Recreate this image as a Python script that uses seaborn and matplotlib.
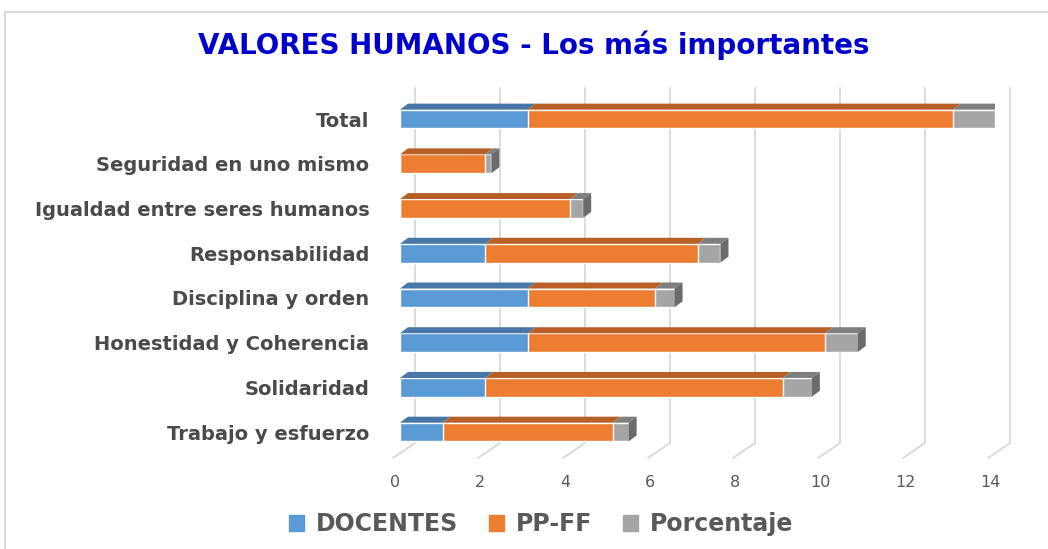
import seaborn as sns
import matplotlib.pyplot as plt
import matplotlib.patches as mpatches
from matplotlib.transforms import ScaledTranslation
import pandas as pd

# Data (top to bottom)
categorias = ['Total', 'Seguridad en uno mismo', 'Igualdad entre seres humanos',
              'Responsabilidad', 'Disciplina y orden', 'Honestidad y Coherencia',
              'Solidaridad', 'Trabajo y esfuerzo']
docentes = [3, 0, 0, 2, 3, 3, 2, 1]
pp_ff = [10, 2, 4, 5, 3, 7, 7, 4]
porcentaje = [1.0, 0.15, 0.31, 0.54, 0.46, 0.77, 0.69, 0.38]
x_ticks = [0, 2, 4, 6, 8, 10, 12, 14]

c_doc, c_pp, c_por = '#5B9BD5', '#ED7D31', '#A5A5A5'
c_doc_top, c_pp_top, c_por_top = '#4677A6', '#B85F26', '#7F7F7F'
c_side = '#6B6B6B'

df = pd.DataFrame({'cat': categorias, 'DOCENTES': docentes,
                   'PP-FF': pp_ff, 'Porcentaje': porcentaje})
df['s1'] = df['DOCENTES']
df['s2'] = df['s1'] + df['PP-FF']
df['s3'] = df['s2'] + df['Porcentaje']

sns.set_style('white')
plt.rcParams['font.family'] = ['DejaVu Sans']

W, H, dpi = 1048, 549, 100
fig = plt.figure(figsize=(W / dpi, H / dpi), dpi=dpi)
ax_l, ax_w, ax_t, ax_b = 400, 595, 88, 458
ax = fig.add_axes([ax_l / W, 1 - ax_b / H, ax_w / W, (ax_b - ax_t) / H])

# chart border
fig.patches.append(mpatches.Rectangle((5 / W, -0.05), 1.2, 1 - 12 / H + 0.05,
                                      transform=fig.transFigure, fill=False,
                                      edgecolor='#D9D9D9', linewidth=1.5))

bw = 0.42
sns.barplot(data=df, y='cat', x='s3', color=c_por, width=bw, ax=ax,
            saturation=1, zorder=2)
sns.barplot(data=df, y='cat', x='s2', color=c_pp, width=bw, ax=ax,
            saturation=1, zorder=3)
sns.barplot(data=df, y='cat', x='s1', color=c_doc, width=bw, ax=ax,
            saturation=1, zorder=4)

y_top, y_bot = -0.694, 7.58
ax.set_xlim(0, 14)
ax.set_ylim(y_bot, y_top)

# pixel -> data units for the 3D offsets
xpp = 14 / ax_w
ypp = (y_bot - y_top) / (ax_b - ax_t)
bar_dx, bar_dy = 8 * xpp, 6 * ypp
back_dx, back_dy = 15 * xpp, 15 * ypp
front_dx = -7 * xpp

# gridlines at the back wall + floor diagonals
for v in x_ticks:
    ax.plot([v + back_dx, v + back_dx, v + front_dx],
            [y_top, y_bot - back_dy, y_bot],
            color='#D9D9D9', lw=1.3, zorder=0, clip_on=False)

# top and side faces
for i in range(len(categorias)):
    ytop = i - bw / 2
    ybot = i + bw / 2
    segs = [(0, df['s1'][i], c_doc_top), (df['s1'][i], df['s2'][i], c_pp_top),
            (df['s2'][i], df['s3'][i], c_por_top)]
    for x0, x1, col in segs:
        if x1 - x0 <= 0:
            continue
        ax.fill([x0, x1, x1 + bar_dx, x0 + bar_dx],
                [ytop, ytop, ytop - bar_dy, ytop - bar_dy],
                color=col, lw=0, zorder=5)
    xe = df['s3'][i]
    ax.fill([xe, xe + bar_dx, xe + bar_dx, xe],
            [ytop, ytop - bar_dy, ybot - bar_dy, ybot],
            color=c_side, lw=0, zorder=5)

for s in ax.spines.values():
    s.set_visible(False)
ax.set_xticks(x_ticks)
ax.set_xticklabels([str(t) for t in x_ticks], fontsize=11.5, color='#595959')
ax.tick_params(axis='x', length=0, pad=12)
shift = ScaledTranslation(-5 / dpi, 0, fig.dpi_scale_trans)
for lab in ax.get_xticklabels():
    lab.set_transform(lab.get_transform() + shift)
ax.tick_params(axis='y', length=0, pad=22)
for lab in ax.get_yticklabels():
    lab.set_fontsize(14)
    lab.set_fontweight('bold')
    lab.set_color('#4A4A4A')
ax.set_xlabel('')
ax.set_ylabel('')

fig.text(534 / W, 1 - 45 / H, 'VALORES HUMANOS - Los más importantes',
         ha='center', va='center', fontsize=20, fontweight='bold',
         color='#0000CC')

handles = [mpatches.Patch(color=c, label=l)
           for c, l in [(c_doc, 'DOCENTES'), (c_pp, 'PP-FF'), (c_por, 'Porcentaje')]]
leg = fig.legend(handles=handles, loc='center', bbox_to_anchor=(541 / W, 1 - 524 / H),
                 ncol=3, frameon=False, handlelength=0.65, handleheight=0.65,
                 columnspacing=1.3, handletextpad=0.5,
                 prop={'size': 17, 'weight': 'bold'})
for t in leg.get_texts():
    t.set_color('#595959')

fig.savefig('out.png', dpi=dpi)
